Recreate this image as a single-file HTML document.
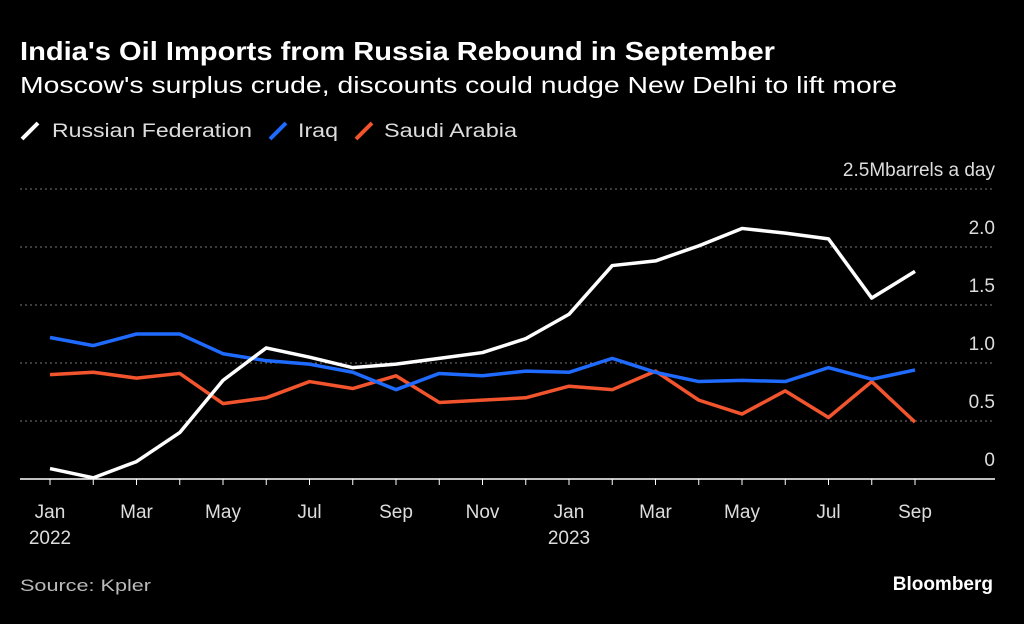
<!DOCTYPE html>
<html><head><meta charset="utf-8"><style>
body{margin:0;background:#000;width:1024px;height:619px;overflow:hidden;font-family:"Liberation Sans",sans-serif;color:#fff}
svg text{font-family:"Liberation Sans",sans-serif}
</style></head><body>
<svg width="1024" height="619">
<text x="20" y="60" font-size="26" font-weight="bold" fill="#fff" textLength="755" lengthAdjust="spacingAndGlyphs">India's Oil Imports from Russia Rebound in September</text>
<text x="20" y="93" font-size="23" fill="#fff" textLength="877" lengthAdjust="spacingAndGlyphs">Moscow's surplus crude, discounts could nudge New Delhi to lift more</text>
<g>
<line x1="22" y1="139" x2="38" y2="123" stroke="#fff" stroke-width="4"/>
<text x="52" y="137" font-size="19" fill="#ddd" textLength="200" lengthAdjust="spacingAndGlyphs">Russian Federation</text>
<line x1="270" y1="139" x2="286" y2="123" stroke="#1f6bff" stroke-width="4"/>
<text x="298" y="137" font-size="19" fill="#ddd" textLength="40" lengthAdjust="spacingAndGlyphs">Iraq</text>
<line x1="356" y1="139" x2="372" y2="123" stroke="#f2542d" stroke-width="4"/>
<text x="384" y="137" font-size="19" fill="#ddd" textLength="133" lengthAdjust="spacingAndGlyphs">Saudi Arabia</text>
</g>
<g id="plot"></g>
<text x="20" y="591" font-size="17" fill="#bbb" textLength="131" lengthAdjust="spacingAndGlyphs">Source: Kpler</text>
<text x="993" y="590" font-size="19" font-weight="bold" fill="#fff" text-anchor="end">Bloomberg</text>
</svg>
<script>
const months=["Jan","Feb","Mar","Apr","May","Jun","Jul","Aug","Sep","Oct","Nov","Dec","Jan","Feb","Mar","Apr","May","Jun","Jul","Aug","Sep"];
const russia=[0.09,0.01,0.15,0.40,0.85,1.13,1.05,0.96,0.99,1.04,1.09,1.21,1.42,1.84,1.88,2.01,2.16,2.12,2.07,1.56,1.79];
const iraq=[1.22,1.15,1.25,1.25,1.08,1.02,0.99,0.92,0.77,0.91,0.89,0.93,0.92,1.04,0.92,0.84,0.85,0.84,0.96,0.86,0.94];
const saudi=[0.90,0.92,0.87,0.91,0.65,0.70,0.84,0.78,0.89,0.66,0.68,0.70,0.80,0.77,0.93,0.68,0.56,0.76,0.53,0.84,0.49];
const yTicks=[0,0.5,1.0,1.5,2.0,2.5];
const yLabels=["0","0.5","1.0","1.5","2.0","2.5Mbarrels a day"];
const ns="http://www.w3.org/2000/svg",g=document.getElementById('plot');
const x=i=>50+i*43.25, y=v=>479-v*116;
function mk(t,a){const e=document.createElementNS(ns,t);for(const k in a)e.setAttribute(k,a[k]);g.appendChild(e);return e;}
yTicks.forEach((v,i)=>{
 if(v>0){const l=mk('line',{x1:20,x2:995,y1:y(v),y2:y(v),stroke:'#777','stroke-dasharray':'2,3'});
 
 }
 const t=mk('text',{x:995,y:y(v)-13,'font-size':19,fill:'#ddd','text-anchor':'end'});t.textContent=yLabels[i];
 
 
});
const b=mk('line',{x1:20,x2:995,y1:479,y2:479,stroke:'#fff','stroke-width':1.5});


months.forEach((m,i)=>{
 const tk=mk('line',{x1:x(i),x2:x(i),y1:479,y2:485,stroke:'#fff'});
 
 
 if(i%2==0){const t=mk('text',{x:x(i),y:518,'font-size':19,fill:'#ddd','text-anchor':'middle'});t.textContent=m;
 
 }
});
[[0,"2022"],[12,"2023"]].forEach(([i,s])=>{const t=mk('text',{x:x(i),y:544,'font-size':19,fill:'#ddd','text-anchor':'middle'});t.textContent=s;
 
 });
[[saudi,'#f2542d','saudi-line'],[iraq,'#1f6bff','iraq-line'],[russia,'#fff','russia-line']].forEach(([d,c,n])=>{
 const p=mk('polyline',{points:d.map((v,i)=>x(i)+','+y(v)).join(' '),fill:'none',stroke:c,'stroke-width':3.5,'stroke-linejoin':'round'});
 
 
});
</script>
</body></html>
